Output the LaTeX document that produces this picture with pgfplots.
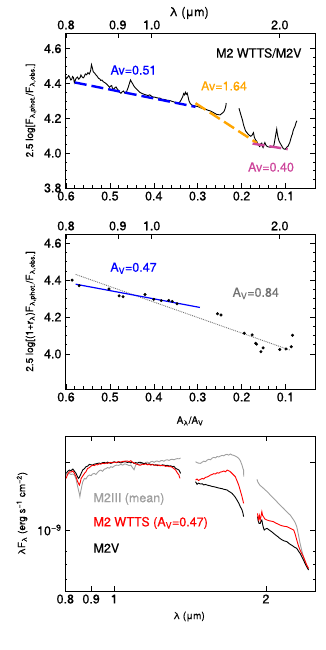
\documentclass[border=0pt]{standalone}
\usepackage{fontspec}
\setmainfont{TeX Gyre Heros}[FakeBold=0.5]
\usepackage{pgfplots}
\pgfplotsset{compat=1.18}

\definecolor{idlblue}{RGB}{0,0,255}
\definecolor{idlorange}{RGB}{255,165,0}
\definecolor{idlmag}{RGB}{205,70,155}
\definecolor{idlgray}{RGB}{160,160,160}
\definecolor{txtgray}{RGB}{115,115,115}
\definecolor{idlred}{RGB}{255,0,0}

\newcommand{\fs}{\fontsize{12.5}{14}\selectfont}

\pgfplotsset{
  idl/.style={scale only axis, width=250pt, height=155pt, anchor=south west,
    clip mode=individual,
    tick align=inside, major tick length=5pt, minor tick length=2.5pt,
    axis line style={line width=0.8pt}, every tick/.style={black,line width=0.6pt},
    tick label style={font=\fs}, label style={font=\fs},
    /pgf/number format/assume math mode=true},
  ratio/.style={idl, x dir=reverse, xmin=0.0328, xmax=0.6023,
    xtick={0.1,0.2,0.3,0.4,0.5,0.6}, minor x tick num=4, xtick pos=left,
    ytick={3.8,4.0,4.2,4.4,4.6}, minor y tick num=3,
    xticklabel style={/pgf/number format/.cd,fixed,fixed zerofill,precision=1},
    yticklabel style={/pgf/number format/.cd,fixed,fixed zerofill,precision=1},
    every axis y label/.style={at={(axis description cs:-0.136,0.5)},rotate=90,anchor=center}},
  lamtop/.style={idl, x dir=reverse, xmin=0.0328, xmax=0.6023, ymin=0, ymax=1,
    axis x line*=top, axis y line=none,
    xtick={0.600,0.482,0.405,0.113}, xticklabels={0.8,0.9,1.0,2.0}}
}

\begin{document}
\begin{tikzpicture}[x=1pt,y=1pt]
\path (0,0) rectangle (325,650);

% ---------------- panel 1 ----------------
\begin{axis}[ratio, at={(65pt,462pt)}, ymin=3.80, ymax=4.69,
  ylabel={2.5 log[F\textsubscript{λ,phot.}/F\textsubscript{λ,obs.}]}]
\addplot[black, line width=0.9pt] coordinates {
(0.602,4.446)(0.599,4.428)(0.597,4.433)(0.594,4.445)(0.592,4.438)(0.589,4.420)
(0.587,4.424)(0.585,4.440)(0.583,4.434)(0.581,4.405)(0.579,4.418)(0.577,4.430)
(0.574,4.437)(0.571,4.425)(0.568,4.433)(0.566,4.449)(0.564,4.440)(0.561,4.432)
(0.559,4.437)(0.556,4.455)(0.553,4.450)(0.550,4.462)(0.547,4.454)(0.544,4.472)
(0.542,4.508)(0.540,4.490)(0.538,4.468)(0.535,4.460)(0.532,4.450)(0.529,4.442)
(0.526,4.430)(0.523,4.426)(0.521,4.418)(0.518,4.420)(0.515,4.410)(0.511,4.404)
(0.507,4.396)(0.504,4.388)(0.501,4.378)(0.498,4.386)(0.496,4.388)(0.494,4.372)
(0.492,4.365)(0.489,4.375)(0.486,4.380)(0.483,4.368)(0.481,4.362)(0.478,4.350)
(0.475,4.344)(0.472,4.352)(0.469,4.357)(0.466,4.345)(0.463,4.343)(0.461,4.360)
(0.458,4.380)(0.455,4.405)(0.453,4.420)(0.451,4.410)(0.448,4.398)(0.446,4.388)
(0.443,4.378)(0.440,4.370)(0.437,4.362)(0.434,4.355)(0.431,4.348)(0.428,4.344)
(0.424,4.340)(0.420,4.336)(0.416,4.333)(0.413,4.331)(0.409,4.335)(0.405,4.326)
(0.401,4.322)(0.397,4.321)(0.393,4.318)(0.389,4.316)(0.386,4.316)(0.382,4.310)
(0.378,4.309)(0.374,4.307)(0.370,4.304)(0.366,4.303)(0.363,4.302)(0.359,4.298)
(0.355,4.295)(0.352,4.292)(0.348,4.290)(0.344,4.288)(0.340,4.296)(0.337,4.310)
(0.334,4.325)(0.332,4.342)(0.330,4.335)(0.328,4.350)(0.326,4.338)(0.324,4.345)
(0.322,4.325)(0.320,4.302)(0.317,4.285)(0.314,4.277)(0.310,4.274)(0.306,4.271)
(0.302,4.269)(0.298,4.266)(0.294,4.261)(0.291,4.258)(0.287,4.255)(0.283,4.252)
(0.280,4.250)(0.276,4.246)(0.272,4.243)(0.268,4.238)(0.264,4.233)(0.260,4.227)
(0.257,4.223)(0.253,4.221)(0.249,4.220)(0.246,4.226)(0.243,4.232)(0.240,4.240)
(0.238,4.252)(0.236,4.270)(0.235,4.288)};
\addplot[black, line width=0.9pt] coordinates {
(0.206,4.258)(0.203,4.232)(0.200,4.206)(0.198,4.190)(0.196,4.167)(0.194,4.150)
(0.191,4.128)(0.188,4.118)(0.185,4.109)(0.182,4.102)(0.179,4.097)(0.176,4.104)
(0.173,4.118)(0.171,4.092)(0.169,4.080)(0.167,4.072)(0.165,4.066)(0.163,4.050)
(0.161,4.045)(0.159,4.038)(0.158,4.041)(0.156,4.055)(0.154,4.058)(0.152,4.036)
(0.151,4.032)(0.149,4.050)(0.147,4.061)(0.145,4.048)(0.142,4.039)(0.139,4.036)
(0.135,4.034)(0.131,4.036)(0.128,4.034)(0.126,4.050)(0.124,4.080)(0.122,4.110)
(0.120,4.138)(0.119,4.118)(0.117,4.091)(0.115,4.072)(0.113,4.061)(0.110,4.048)
(0.108,4.039)(0.105,4.026)(0.103,4.024)(0.101,4.022)(0.099,4.028)(0.097,4.034)
(0.094,4.041)(0.092,4.052)(0.090,4.063)(0.088,4.082)(0.086,4.099)(0.084,4.112)
(0.083,4.126)(0.081,4.140)(0.079,4.150)(0.078,4.157)(0.076,4.175)(0.074,4.186)};
\addplot[idlblue, line width=2.4pt, dash pattern=on 12pt off 5pt] coordinates {(0.580,4.406)(0.305,4.266)};
\addplot[idlorange, line width=2.4pt, dash pattern=on 12pt off 5pt] coordinates {(0.305,4.287)(0.165,4.058)};
\addplot[idlmag, line width=2.4pt, dash pattern=on 12pt off 5pt] coordinates {(0.175,4.055)(0.095,4.023)};
\node[anchor=east, font=\fs] at (axis description cs:0.96,0.871) {M2 WTTS/M2V};
\node[font=\fs, text=idlblue] at (axis description cs:0.274,0.761) {Av=0.51};
\node[font=\fs, text=idlorange] at (axis description cs:0.636,0.658) {Av=1.64};
\node[font=\fs, text=idlmag] at (axis description cs:0.824,0.135) {Av=0.40};
\node[font=\fs] at (axis description cs:0.496,1.129) {λ (μm)};
\end{axis}
\begin{axis}[lamtop, at={(65pt,462pt)}]
\end{axis}

% ---------------- panel 2 ----------------
\begin{axis}[ratio, at={(65pt,261pt)}, ymin=3.81, ymax=4.65,
  ytick={4.0,4.2,4.4,4.6},
  ylabel={2.5 log[(1+r\textsubscript{λ})F\textsubscript{λ,phot.}/F\textsubscript{λ,obs.}]},
  xlabel={A\textsubscript{λ}/A\textsubscript{V}},
  every axis x label/.style={at={(axis description cs:0.5,-0.206)},anchor=center}]
\addplot[txtgray, line width=0.9pt, densely dotted] coordinates {(0.578,4.431)(0.090,4.021)};
\addplot[idlblue, line width=1.2pt] coordinates {(0.578,4.378)(0.295,4.252)};
\addplot[only marks, mark=*, mark size=1.3pt, black] coordinates {
(0.586,4.400)(0.570,4.370)(0.502,4.352)(0.479,4.315)(0.470,4.310)(0.420,4.322)
(0.400,4.296)(0.383,4.289)(0.366,4.290)(0.358,4.285)(0.347,4.272)(0.255,4.218)
(0.247,4.211)(0.194,4.112)(0.176,4.103)(0.168,4.058)(0.166,4.053)(0.156,4.012)
(0.151,4.033)(0.113,4.024)(0.099,4.027)(0.087,4.039)(0.084,4.101)};
\node[font=\fs, text=idlblue] at (axis description cs:0.274,0.779) {A\textsubscript{V}=0.47};
\node[font=\fs, text=txtgray] at (axis description cs:0.763,0.617) {A\textsubscript{V}=0.84};
\end{axis}
\begin{axis}[lamtop, at={(65pt,261pt)}]
\end{axis}

% ---------------- panel 3 ----------------
\begin{axis}[idl, at={(65pt,59pt)}, xmode=log, ymode=log,
  xmin=0.799, xmax=2.502, ymin=0.534, ymax=2.63,
  xtick={0.8,0.9,1,2}, xticklabels={0.8,0.9,1,2},
  ytick={1,2}, yticklabels={10\textsuperscript{−9},},
  minor ytick={0.6,0.7,0.8},
  xlabel={λ (μm)}, ylabel={λF\textsubscript{λ} (erg s\textsuperscript{−1} cm\textsuperscript{−2})},
  every axis x label/.style={at={(axis description cs:0.496,-0.165)},anchor=center},
  every axis y label/.style={at={(axis description cs:-0.172,0.5)},rotate=90,anchor=center}]
% M2III (mean)
\addplot[idlgray, line width=0.9pt] coordinates {
(0.803,1.760)(0.809,1.775)(0.815,1.790)(0.821,1.770)(0.828,1.778)(0.834,1.760)
(0.840,1.690)(0.845,1.588)(0.850,1.500)(0.853,1.450)(0.855,1.409)(0.858,1.480)
(0.862,1.561)(0.866,1.640)(0.873,1.701)(0.879,1.690)(0.886,1.740)(0.893,1.760)
(0.900,1.750)(0.906,1.780)(0.913,1.790)(0.920,1.770)(0.927,1.810)(0.934,1.840)
(0.941,1.853)(0.948,1.830)(0.956,1.870)(0.963,1.880)(0.970,1.900)(0.978,1.890)
(0.985,1.917)(0.993,1.905)(1.000,1.930)(1.010,1.950)(1.020,1.945)(1.031,1.964)
(1.040,1.950)(1.050,1.975)(1.063,1.955)(1.071,1.940)(1.079,1.950)(1.087,1.900)
(1.095,1.860)(1.103,1.950)(1.112,1.975)(1.120,1.960)(1.129,1.985)(1.138,1.995)
(1.146,1.975)(1.155,2.005)(1.164,2.010)(1.173,1.990)(1.182,2.018)(1.191,2.025)
(1.200,2.005)(1.210,2.030)(1.219,2.032)(1.228,2.015)(1.237,2.040)(1.246,2.045)
(1.255,2.028)(1.265,2.053)(1.275,2.060)(1.285,2.045)(1.294,2.065)(1.304,2.070)
(1.314,2.060)(1.324,2.075)(1.334,2.085)(1.344,2.080)(1.354,2.095)};
\addplot[idlgray, line width=0.9pt] coordinates {
(1.450,2.018)(1.460,2.000)(1.470,1.990)(1.483,1.985)(1.495,2.010)(1.505,2.030)
(1.517,2.020)(1.529,2.053)(1.540,2.070)(1.552,2.060)(1.564,2.095)(1.576,2.111)
(1.588,2.100)(1.600,2.130)(1.612,2.120)(1.624,2.140)(1.637,2.155)(1.650,2.145)
(1.662,2.170)(1.675,2.177)(1.687,2.160)(1.700,2.185)(1.713,2.165)(1.726,2.154)
(1.739,2.140)(1.752,2.120)(1.766,2.089)(1.779,2.040)(1.793,1.950)(1.801,1.880)
(1.806,1.853)(1.807,1.730)};
\addplot[idlgray, line width=0.9pt] coordinates {
(1.920,1.684)(1.927,1.640)(1.934,1.616)(1.948,1.580)(1.963,1.560)(1.978,1.535)
(2.000,1.500)(2.020,1.470)(2.039,1.433)(2.055,1.410)(2.071,1.385)(2.087,1.360)
(2.102,1.338)(2.120,1.310)(2.135,1.290)(2.150,1.270)(2.167,1.249)(2.185,1.225)
(2.200,1.205)(2.217,1.185)(2.234,1.167)(2.250,1.140)(2.270,1.108)(2.285,1.080)
(2.302,1.035)(2.320,0.950)(2.337,0.872)(2.355,0.810)(2.373,0.760)(2.390,0.720)
(2.409,0.686)(2.430,0.663)};
% M2V
\addplot[black, line width=0.9pt] coordinates {
(0.803,1.790)(0.809,1.830)(0.815,1.853)(0.821,1.840)(0.828,1.872)(0.834,1.830)
(0.840,1.790)(0.845,1.740)(0.849,1.701)(0.853,1.720)(0.857,1.760)(0.862,1.810)
(0.866,1.853)(0.873,1.880)(0.879,1.917)(0.886,1.930)(0.893,1.964)(0.900,1.955)
(0.906,1.950)(0.913,1.970)(0.920,1.975)(0.927,1.985)(0.934,1.990)(0.941,1.980)
(0.948,2.000)(0.956,2.004)(0.963,1.990)(0.970,2.010)(0.978,1.995)(0.985,1.985)
(0.993,2.005)(1.000,2.018)(1.010,2.000)(1.020,2.012)(1.031,1.995)(1.040,2.010)
(1.050,2.020)(1.063,2.004)(1.071,2.015)(1.079,1.995)(1.087,2.010)(1.095,1.985)
(1.103,2.000)(1.112,1.990)(1.120,2.008)(1.129,2.004)(1.138,1.990)(1.146,1.980)
(1.155,1.985)(1.164,1.964)(1.173,1.975)(1.182,1.960)(1.191,1.965)(1.200,1.950)
(1.210,1.955)(1.219,1.940)(1.228,1.950)(1.237,1.937)(1.246,1.955)(1.255,1.950)
(1.265,1.940)(1.275,1.945)(1.285,1.930)(1.294,1.937)(1.304,1.920)(1.314,1.925)
(1.324,1.885)(1.334,1.870)(1.344,1.853)(1.350,1.820)(1.354,1.790)};
\addplot[black, line width=0.9pt] coordinates {
(1.450,1.644)(1.460,1.600)(1.470,1.620)(1.483,1.605)(1.495,1.610)(1.505,1.590)
(1.517,1.598)(1.529,1.588)(1.540,1.580)(1.552,1.575)(1.564,1.565)(1.576,1.561)
(1.588,1.555)(1.600,1.548)(1.612,1.540)(1.624,1.535)(1.637,1.530)(1.650,1.520)
(1.662,1.515)(1.675,1.509)(1.687,1.490)(1.700,1.475)(1.713,1.458)(1.726,1.430)
(1.739,1.400)(1.752,1.361)(1.766,1.320)(1.779,1.271)(1.793,1.230)(1.801,1.187)
(1.806,1.147)};
\addplot[black, line width=0.9pt] coordinates {
(1.925,1.147)(1.930,1.100)(1.938,1.071)(1.948,1.071)(1.955,1.095)(1.963,1.108)
(1.970,1.060)(1.978,1.020)(1.985,1.000)(1.995,1.010)(2.010,1.017)(2.030,1.000)
(2.050,0.985)(2.071,0.966)(2.090,0.950)(2.110,0.935)(2.130,0.918)(2.150,0.905)
(2.170,0.895)(2.200,0.887)(2.230,0.865)(2.250,0.855)(2.270,0.843)(2.285,0.835)
(2.302,0.828)(2.320,0.805)(2.337,0.787)(2.355,0.760)(2.373,0.735)(2.390,0.710)
(2.409,0.686)(2.430,0.663)};
% M2 WTTS
\addplot[idlred, line width=0.9pt] coordinates {
(0.803,1.701)(0.809,1.780)(0.815,1.821)(0.821,1.815)(0.828,1.834)(0.834,1.790)
(0.840,1.730)(0.845,1.660)(0.850,1.610)(0.853,1.588)(0.857,1.640)(0.860,1.701)
(0.866,1.740)(0.873,1.790)(0.879,1.820)(0.886,1.885)(0.893,1.900)(0.900,1.930)
(0.906,1.950)(0.913,1.940)(0.920,1.960)(0.927,1.955)(0.934,1.975)(0.941,1.970)
(0.948,1.985)(0.956,1.980)(0.963,1.995)(0.970,1.985)(0.978,2.000)(0.985,2.004)
(0.993,1.995)(1.000,2.010)(1.010,2.004)(1.020,2.020)(1.031,2.012)(1.040,2.025)
(1.050,2.030)(1.063,2.032)(1.071,2.020)(1.079,2.040)(1.087,2.004)(1.095,1.995)
(1.103,1.975)(1.112,1.965)(1.120,1.950)(1.129,1.950)(1.138,1.968)(1.146,1.964)
(1.155,1.975)(1.164,1.955)(1.173,1.965)(1.182,1.950)(1.191,1.960)(1.200,1.950)
(1.210,1.945)(1.219,1.955)(1.228,1.940)(1.237,1.945)(1.246,1.937)(1.255,1.940)
(1.265,1.925)(1.275,1.930)(1.285,1.917)(1.294,1.920)(1.304,1.905)(1.314,1.880)
(1.324,1.853)(1.334,1.800)(1.344,1.760)(1.350,1.701)};
\addplot[idlred, line width=0.9pt] coordinates {
(1.450,1.672)(1.460,1.690)(1.470,1.665)(1.483,1.684)(1.495,1.700)(1.505,1.690)
(1.517,1.718)(1.529,1.725)(1.540,1.740)(1.552,1.760)(1.564,1.770)(1.576,1.785)
(1.588,1.780)(1.600,1.803)(1.612,1.795)(1.624,1.815)(1.637,1.821)(1.650,1.835)
(1.662,1.820)(1.675,1.853)(1.687,1.840)(1.700,1.821)(1.713,1.790)(1.726,1.760)
(1.739,1.730)(1.752,1.660)(1.766,1.588)(1.779,1.500)(1.793,1.409)(1.801,1.350)
(1.806,1.315)};
\addplot[idlred, line width=0.9pt] coordinates {
(1.925,1.187)(1.930,1.127)(1.934,1.110)(1.941,1.160)(1.948,1.108)(1.955,1.150)
(1.963,1.207)(1.970,1.160)(1.978,1.147)(1.990,1.120)(2.010,1.108)(2.030,1.100)
(2.050,1.095)(2.071,1.089)(2.090,1.075)(2.110,1.065)(2.130,1.053)(2.150,1.045)
(2.170,1.040)(2.200,1.035)(2.230,1.020)(2.250,1.010)(2.270,1.000)(2.285,0.960)
(2.302,0.902)(2.320,0.850)(2.337,0.814)(2.355,0.785)(2.373,0.760)(2.390,0.730)
(2.409,0.698)(2.430,0.674)};
\node[anchor=west, font=\fs, text=idlgray] at (axis description cs:0.10,0.594) {M2III (mean)};
\node[anchor=west, font=\fs, text=idlred] at (axis description cs:0.10,0.439) {M2 WTTS (A\textsubscript{V}=0.47)};
\node[anchor=west, font=\fs] at (axis description cs:0.10,0.277) {M2V};
\end{axis}
\end{tikzpicture}
\end{document}
